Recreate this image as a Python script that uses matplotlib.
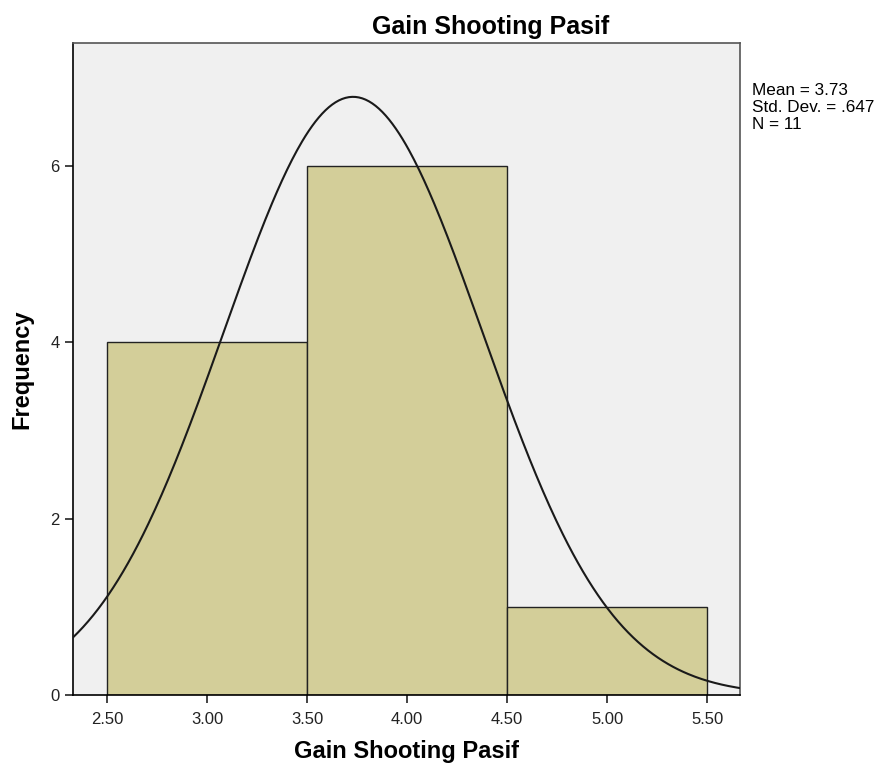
import numpy as np
import matplotlib.pyplot as plt

# histogram data
bin_left = [2.5, 3.5, 4.5]
counts = [4, 6, 1]
bin_width = 1.0
mean, sd, n = 3.73, 0.647, 11
xticks = [2.5, 3.0, 3.5, 4.0, 4.5, 5.0, 5.5]
yticks = [0, 2, 4, 6]

plt.rcParams['font.family'] = ['Liberation Sans', 'DejaVu Sans']

fig = plt.figure(figsize=(8.8, 7.73), dpi=100)
ax = fig.add_axes([0.083, 0.101, 0.758, 0.843])
ax.set_facecolor('#F0F0F0')

ax.bar(bin_left, counts, width=bin_width, align='edge', color='#D3CE99',
       edgecolor='#222222', linewidth=1.0, zorder=2)

# normal curve scaled to counts
xs = np.linspace(2.33, 5.665, 400)
ys = n * bin_width / (sd * np.sqrt(2 * np.pi)) * np.exp(-0.5 * ((xs - mean) / sd) ** 2)
ax.plot(xs, ys, color='#1a1a1a', linewidth=1.5, zorder=3)

ax.set_xlim(2.33, 5.665)
ax.set_ylim(0, 7.39)
ax.set_xticks(xticks)
ax.set_xticklabels([f'{v:.2f}' for v in xticks])
ax.set_yticks(yticks)
ax.tick_params(direction='out', length=6, width=1.2, labelsize=12, colors='#222222')
ax.tick_params(axis='x', pad=6)
for s in ['top', 'right']:
    ax.spines[s].set_color('#555555')
for s in ax.spines.values():
    s.set_linewidth(1.2)

ax.set_xlabel('Gain Shooting Pasif', fontsize=17, fontweight='bold', labelpad=10)
ax.set_ylabel('Frequency', fontsize=17, fontweight='bold', labelpad=12)
fig.text(0.557, 0.965, 'Gain Shooting Pasif', fontsize=18, fontweight='bold',
         ha='center', va='center')

fig.text(0.854, 0.892, f'Mean = {mean}\nStd. Dev. = .647\nN = {n}',
         fontsize=12.3, va='top', ha='left', linespacing=1.15)

fig.savefig('out.png')
